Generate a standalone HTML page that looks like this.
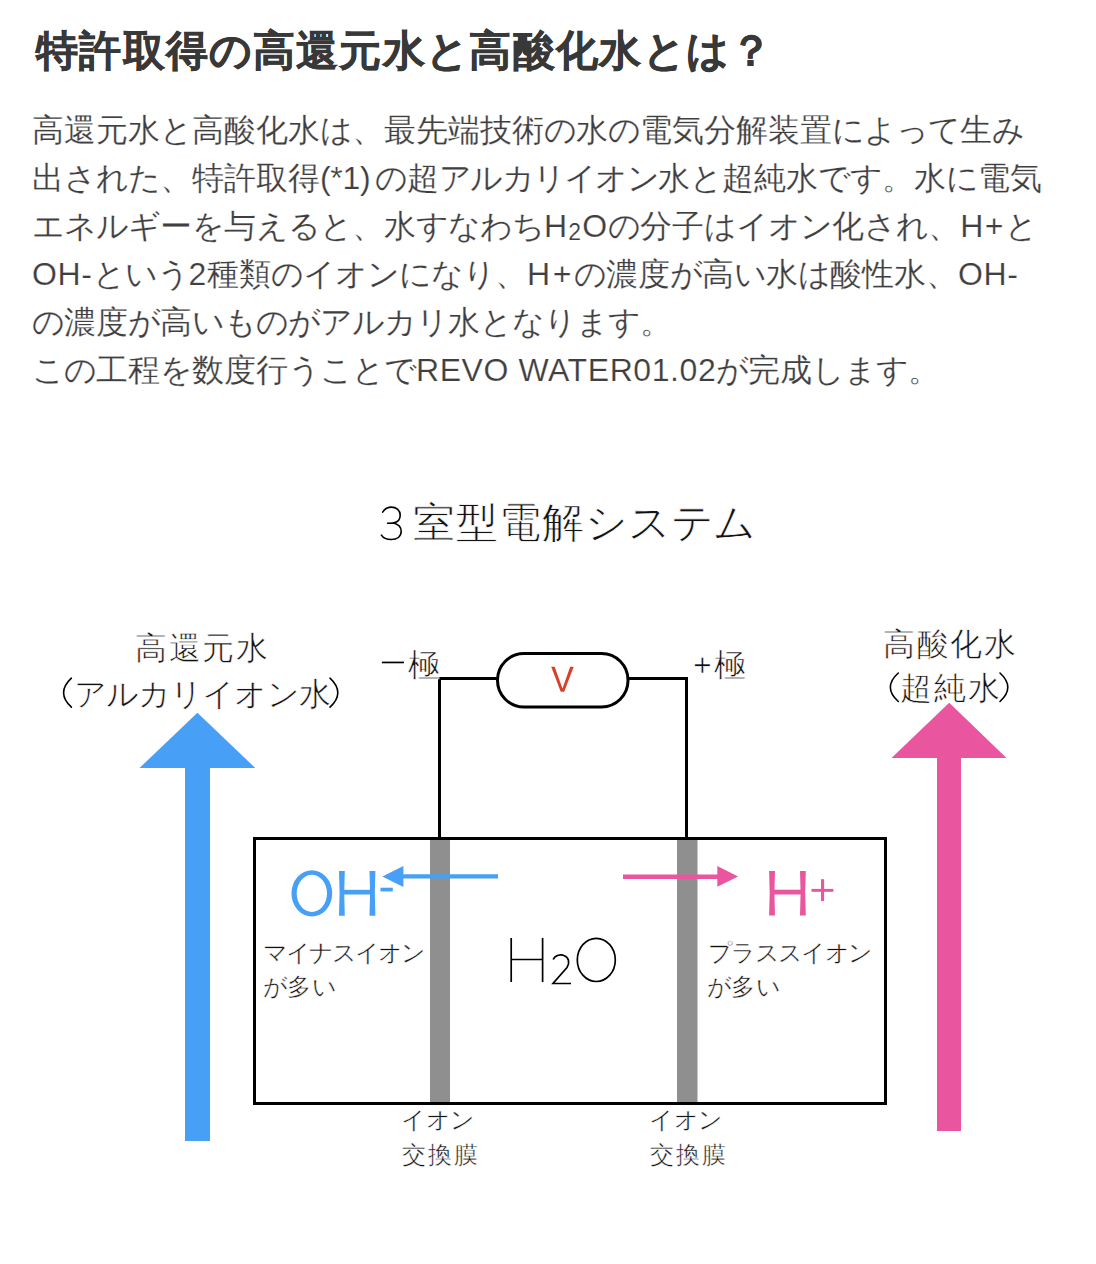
<!DOCTYPE html>
<html lang="ja">
<head>
<meta charset="utf-8">
<title>特許取得の高還元水と高酸化水とは？</title>
<style>
html,body{margin:0;padding:0;background:#fff;}
body{width:1096px;height:1264px;position:relative;overflow:hidden;font-family:"Liberation Sans",sans-serif;}
i{display:inline-block;font-style:normal;width:var(--cw);letter-spacing:0;text-indent:0;}
.t{position:absolute;white-space:nowrap;}
#title{position:absolute;white-space:nowrap;margin:0;left:36px;top:24.5px;font-size:41.5px;font-weight:bold;color:#383838;line-height:52px;-webkit-text-stroke:0.5px #383838;--cw:43.35px;}
.pl{letter-spacing:var(--ls);position:absolute;white-space:nowrap;font-size:32px;color:#3f3f3f;line-height:48px;height:48px;-webkit-text-stroke:0.2px #fff;--cw:32px;}
.pl .n i{width:31.3px;}
.l{letter-spacing:calc(var(--ls) + var(--la));}
.sub{font-size:23px;vertical-align:-3px;line-height:0;}
.d{color:#111;}
</style>
</head>
<body>
<h1 id="title"><i>特</i><i>許</i><i>取</i><i>得</i><i>の</i><i>高</i><i>還</i><i>元</i><i>水</i><i>と</i><i>高</i><i>酸</i><i>化</i><i>水</i><i>と</i><i>は</i><i>？</i></h1>
<div class="pl" style="top:106px;left:32px;--ls:0.000px"><i>高</i><i>還</i><i>元</i><i>水</i><i>と</i><i>高</i><i>酸</i><i>化</i><i>水</i><i>は</i><i>、</i><i>最</i><i>先</i><i>端</i><i>技</i><i>術</i><i>の</i><i>水</i><i>の</i><i>電</i><i>気</i><i>分</i><i>解</i><i>装</i><i>置</i><i>に</i><i>よ</i><i>っ</i><i>て</i><i>生</i><i>み</i></div>
<div class="pl" style="top:154px;left:32px;--ls:0.000px"><i>出</i><i>さ</i><i>れ</i><i>た</i><i>、</i><i>特</i><i>許</i><i>取</i><i>得</i><span class="l" style="--la:-0.3px;margin-right:4.6px">(*1)</span><i>の</i><i>超</i><span class="n"><i>ア</i><i>ル</i><i>カ</i><i>リ</i><i>イ</i><i>オ</i><i>ン</i></span><i>水</i><i>と</i><i>超</i><i>純</i><i>水</i><i>で</i><i>す</i><i>。</i><i>水</i><i>に</i><i>電</i><i>気</i></div>
<div class="pl" style="top:202px;left:32px;--ls:-0.500px"><i>エ</i><i>ネ</i><i>ル</i><i>ギ</i><i>ー</i><i>を</i><i>与</i><i>え</i><i>る</i><i>と</i><i>、</i><i>水</i><i>す</i><i>な</i><i>わ</i><i>ち</i><span class="l" style="--la:1.6px">H<span class="sub">2</span>O</span><i>の</i><i>分</i><i>子</i><i>は</i><i>イ</i><i>オ</i><i>ン</i><i>化</i><i>さ</i><i>れ</i><i>、</i><span class="l" style="--la:2px">H+</span><i>と</i></div>
<div class="pl" style="top:250px;left:32px;--ls:0.640px">OH-<i>と</i><i>い</i><i>う</i>2<i>種</i><i>類</i><i>の</i><i>イ</i><i>オ</i><i>ン</i><i>に</i><i>な</i><i>り</i><i>、</i><span class="l" style="--la:2px">H+</span><i>の</i><i>濃</i><i>度</i><i>が</i><i>高</i><i>い</i><i>水</i><i>は</i><i>酸</i><i>性</i><i>水</i><i>、</i>OH-</div>
<div class="pl" style="top:298px;left:32px;--ls:0.000px"><i>の</i><i>濃</i><i>度</i><i>が</i><i>高</i><i>い</i><i>も</i><i>の</i><i>が</i><i>ア</i><i>ル</i><i>カ</i><i>リ</i><i>水</i><i>と</i><i>な</i><i>り</i><i>ま</i><i>す</i><i>。</i></div>
<div class="pl" style="top:346px;left:32px;--ls:-0.140px"><i>こ</i><i>の</i><i>工</i><i>程</i><i>を</i><i>数</i><i>度</i><i>行</i><i>う</i><i>こ</i><i>と</i><i>で</i><span class="l" style="--la:0.72px">REVO WATER01.02</span><i>が</i><i>完</i><i>成</i><i>し</i><i>ま</i><i>す</i><i>。</i></div>

<svg width="1096" height="1264" style="position:absolute;left:0;top:0">
  <polygon points="197.4,712.8 255.3,768 139.5,768" fill="#47a0f5"/>
  <rect x="185" y="767" width="25" height="374" fill="#47a0f5"/>
  <polygon points="949.2,702.8 1006.5,758 891.5,758" fill="#e9559e"/>
  <rect x="937" y="757" width="24" height="374" fill="#e9559e"/>
  <polyline points="497,678.5 439.5,678.5 439.5,838" fill="none" stroke="#000" stroke-width="3"/>
  <polyline points="629,678.5 686.5,678.5 686.5,838" fill="none" stroke="#000" stroke-width="3"/>
  <rect x="497.5" y="653.5" width="130.5" height="53.5" rx="26.5" ry="26.5" fill="#fff" stroke="#000" stroke-width="3"/>
  <rect x="254.5" y="838.5" width="631" height="265" fill="none" stroke="#000" stroke-width="3"/>
  <rect x="430" y="840" width="20" height="262" fill="#8f8f8f"/>
  <rect x="677" y="840" width="20.5" height="262" fill="#8f8f8f"/>
  <line x1="498" y1="876.4" x2="400" y2="876.4" stroke="#47a0f5" stroke-width="4.2"/>
  <polygon points="382.4,876.4 403.4,866 403.4,886.9" fill="#47a0f5"/>
  <line x1="623" y1="876.7" x2="720" y2="876.7" stroke="#e9559e" stroke-width="4.6"/>
  <polygon points="738.1,876.5 717.3,866 717.3,886.7" fill="#e9559e"/>
  <!-- H2O -->
  <g fill="none" stroke="#000" stroke-width="1.7">
    <path d="M511.2,938 V982 M542.6,938 V982 M511.2,959.5 H542.6"/>
    <path d="M553.2,959.5 C555,955 561,954 564,955.5 C569,957.5 570,963 567,967.5 L553,983.5 H571"/>
    <ellipse cx="596.3" cy="959.9" rx="19" ry="21.6"/>
  </g>
  <polygon points="551.2,666.7 554.7,666.7 562.45,688.4 570.2,666.7 573.7,666.7 564.2,691.8 560.7,691.8" fill="#d9402a"/>
  <!-- OH- -->
  <g fill="#47a0f5">
    <path fill-rule="evenodd" d="M311.85,870.2 A20.35,23.2 0 1,0 311.85,916.6 A20.35,23.2 0 1,0 311.85,870.2 Z M311.85,874.8 A15.15,18.6 0 1,1 311.85,912 A15.15,18.6 0 1,1 311.85,874.8 Z"/>
    <path d="M339,870.9 H344.8 Q343.6,893.3 344.8,915.7 H339 Q340.2,893.3 339,870.9 Z"/>
    <path d="M369.5,870.9 H375.4 Q374.2,893.3 375.4,915.7 H369.5 Q370.7,893.3 369.5,870.9 Z"/>
    <rect x="342" y="889.8" width="30" height="4.7"/>
    <rect x="380.5" y="887.7" width="12.3" height="3.7"/>
  </g>
  <!-- H+ -->
  <g fill="#e9559e">
    <path d="M769.1,870.9 H775 Q773.8,893.3 775,915.6 H769.1 Q770.3,893.3 769.1,870.9 Z"/>
    <path d="M800,870.9 H805.8 Q804.6,893.3 805.8,915.6 H800 Q801.2,893.3 800,870.9 Z"/>
    <rect x="772" y="889.7" width="31" height="4.8"/>
    <rect x="811.5" y="888.9" width="21.9" height="2.9"/>
    <rect x="821" y="879.2" width="3.1" height="21.8"/>
  </g>
  <g fill="none" stroke="#000" stroke-width="1.6" stroke-linecap="round">
    <path d="M382.7,512.1 C385,508.5 388,507.1 391.2,507.1 C396.5,507.1 400.2,510.5 400.2,515 C400.2,519.5 397.5,522.3 393.5,522.8"/>
    <path d="M387.6,523.3 L393.6,523 C398.5,524.3 401.2,527.5 401.2,531.3 C401.2,536.5 397.2,539.5 391.2,539.5 C386.6,539.5 383,537.7 381.4,535.1"/>
    <path d="M71.4,678.2 Q55.8,692.7 71.4,707.2"/>
    <path d="M330,678.2 Q345.6,692.7 330,707.2"/>
    <path d="M898.3,673 Q882.4,687.25 898.3,701.5"/>
    <path d="M1000,673 Q1015.6,687.25 1000,701.5"/>
  </g>
  <rect x="381.9" y="661.6" width="22" height="1.7" fill="#000"/>
</svg>
<div class="t d" style="left:135px;top:628px;font-size:32px;line-height:40px;--cw:33.5px;-webkit-text-stroke:0.6px #fff;"><i>高</i><i>還</i><i>元</i><i>水</i></div>
<div class="t d" style="left:883px;top:624px;font-size:32px;line-height:40px;--cw:33.6px;-webkit-text-stroke:0.6px #fff;"><i>高</i><i>酸</i><i>化</i><i>水</i></div>
<div class="t d" style="left:693px;top:644.5px;font-size:32px;line-height:40px;letter-spacing:2px;--cw:32px;-webkit-text-stroke:0.6px #fff;">+<i>極</i></div>
<div class="t d" style="left:263px;top:936px;font-size:24px;line-height:34px;--cw:22.94px;-webkit-text-stroke:0.42px #fff;"><i>マ</i><i>イ</i><i>ナ</i><i>ス</i><i>イ</i><i>オ</i><i>ン</i></div>
<div class="t d" style="left:263px;top:970px;font-size:24px;line-height:34px;--cw:24.4px;-webkit-text-stroke:0.42px #fff;"><i>が</i><i>多</i><i>い</i></div>
<div class="t d" style="left:708px;top:936px;font-size:24px;line-height:34px;--cw:23.32px;-webkit-text-stroke:0.42px #fff;"><i>プ</i><i>ラ</i><i>ス</i><i>ス</i><i>イ</i><i>オ</i><i>ン</i></div>
<div class="t d" style="left:707px;top:970px;font-size:24px;line-height:34px;--cw:24.4px;-webkit-text-stroke:0.42px #fff;"><i>が</i><i>多</i><i>い</i></div>
<div class="t d" style="left:401px;top:1103px;font-size:24px;line-height:34px;--cw:24.7px;-webkit-text-stroke:0.42px #fff;"><i>イ</i><i>オ</i><i>ン</i></div>
<div class="t d" style="left:402px;top:1138px;font-size:24px;line-height:34px;--cw:25.95px;-webkit-text-stroke:0.42px #fff;"><i>交</i><i>換</i><i>膜</i></div>
<div class="t d" style="left:649px;top:1103px;font-size:24px;line-height:34px;--cw:24.7px;-webkit-text-stroke:0.42px #fff;"><i>イ</i><i>オ</i><i>ン</i></div>
<div class="t d" style="left:650px;top:1138px;font-size:24px;line-height:34px;--cw:25.9px;-webkit-text-stroke:0.42px #fff;"><i>交</i><i>換</i><i>膜</i></div>
<div class="t d" style="left:413px;top:498px;font-size:42px;line-height:50px;--cw:42.93px;-webkit-text-stroke:0.75px #fff;"><i>室</i><i>型</i><i>電</i><i>解</i><i>シ</i><i>ス</i><i>テ</i><i>ム</i></div>
<div class="t d" style="left:74px;top:674px;font-size:32px;line-height:40px;--cw:32.1px;-webkit-text-stroke:0.6px #fff;"><i>ア</i><i>ル</i><i>カ</i><i>リ</i><i>イ</i><i>オ</i><i>ン</i><i>水</i></div>
<div class="t d" style="left:900px;top:667.5px;font-size:32px;line-height:40px;--cw:34.1px;-webkit-text-stroke:0.6px #fff;"><i>超</i><i>純</i><i>水</i></div>
<div class="t d" style="left:408px;top:644.5px;font-size:32px;line-height:40px;--cw:32px;-webkit-text-stroke:0.6px #fff;"><i>極</i></div>

</body>
</html>
